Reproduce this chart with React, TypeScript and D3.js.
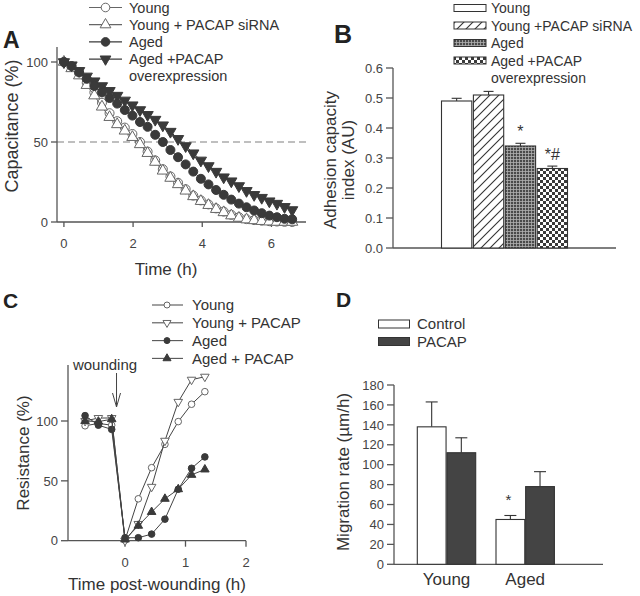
import React from 'react';
import * as d3 from 'd3';

const FONT = '"Liberation Sans", Arial, Helvetica, sans-serif';
const AX = '#555';
const TXT = '#333';
const DARK = '#3a3a3a';
const OPEN = '#666';

// ---------- Panel A data ----------
const timeA = [0, 0.22, 0.44, 0.66, 0.88, 1.1, 1.32, 1.54, 1.76, 1.98, 2.2, 2.42, 2.64, 2.86, 3.08, 3.3, 3.52, 3.74, 3.96, 4.18, 4.4, 4.62, 4.84, 5.06, 5.28, 5.5, 5.72, 5.94, 6.16, 6.38, 6.6];
const youngA = [100, 97, 93, 87, 81, 74.5, 68, 63, 59, 55, 50, 44, 38.5, 33, 28.5, 24.5, 20.5, 16.5, 13.5, 11, 8.5, 6.5, 4.5, 3, 1.8, 1.2, 0.8, 0.5, 0.3, 0.1, 0];
const youngSiRNAA = [100, 96, 91.5, 85.5, 79, 72, 65.5, 61, 57, 53, 48.5, 43, 37.5, 32, 27.5, 23.5, 19.5, 16, 13, 10.5, 8, 6, 4, 2.5, 1.5, 1, 0.5, 0.2, 0, 0, 0];
const agedA = [100, 97.5, 93.5, 89.5, 85, 81, 77.5, 74, 70, 66.5, 62.5, 59.5, 54.5, 50, 45, 40.5, 36, 31.5, 27, 23.5, 20, 17, 14, 11.5, 9.2, 7.2, 5.5, 4, 3, 2, 1.7];
const agedOEA = [100, 98, 94.5, 91, 88, 85, 82, 79, 76, 73, 70, 67, 64, 60.5, 56.5, 52, 47.5, 43, 38.5, 35, 31.5, 28, 25.5, 22.5, 19.5, 17, 15.2, 13, 11.5, 9.5, 7.5];
const xTicksA = [0, 2, 4, 6];
const yTicksA = [0, 50, 100];
const refLineA = 50;

// ---------- Panel B data ----------
const catsB = ['Young', 'Young +PACAP siRNA', 'Aged', 'Aged +PACAP overexpression'];
const valsB = [0.49, 0.51, 0.34, 0.265];
const errsB = [0.009, 0.012, 0.009, 0.008];
const marksB = ['', '', '*', '*#'];
const yTicksB = [0, 0.1, 0.2, 0.3, 0.4, 0.5, 0.6];

// ---------- Panel C data ----------
const timeC = [-0.66, -0.44, -0.22, 0, 0.22, 0.44, 0.66, 0.88, 1.1, 1.32];
const youngC = [96, 98, 96.5, 0.5, 35, 61, 80.5, 99.5, 114, 124.5];
const youngPacapC = [100, 102.5, 102.5, 0, 14, 45, 83.5, 116, 134.5, 137];
const agedC = [104.5, 96.5, 93, 2.5, 2.5, 5.5, 18, 43, 60.5, 70];
const agedPacapC = [100, 99.5, 101.5, 1, 12.5, 24, 35, 43, 55, 59.5];
const xTicksC = [0, 1, 2];
const yTicksC = [0, 50, 100];
const woundTimeC = -0.14;

// ---------- Panel D data ----------
const groupsD = ['Young', 'Aged'];
const seriesD = ['Control', 'PACAP'];
const controlD = [138, 45];
const pacapD = [112, 78];
const controlErrD = [25, 4];
const pacapErrD = [15, 15];
const marksD = [['', ''], ['*', '']];
const yTicksD = [0, 20, 40, 60, 80, 100, 120, 140, 160, 180];

const triPath = (size: number) => d3.symbol().type(d3.symbolTriangle).size(size)() as string;

function Marker({ shape, filled, x, y, r, tri }: any) {
  const fill = filled ? DARK : '#fff';
  const stroke = filled ? DARK : OPEN;
  if (shape === 'circle') return <circle cx={x} cy={y} r={r} fill={fill} stroke={stroke} strokeWidth={1} />;
  const rot = shape === 'down' ? 180 : 0;
  return <path d={triPath(tri)} transform={`translate(${x},${y}) rotate(${rot})`} fill={fill} stroke={stroke} strokeWidth={1} />;
}

function YAxis({ scale, x, ticks, top, fmt, len = 6, fs = 13 }: any) {
  const d = scale.domain();
  return (
    <g>
      <line x1={x} x2={x} y1={scale(d[0])} y2={top} stroke={AX} strokeWidth={1.3} />
      {ticks.map((t: number) => (
        <g key={t}>
          <line x1={x - len} x2={x} y1={scale(t)} y2={scale(t)} stroke={AX} strokeWidth={1.3} />
          <text x={x - len - 3} y={scale(t)} dy="0.36em" textAnchor="end" fontSize={fs} fill="#444">{fmt ? fmt(t) : t}</text>
        </g>
      ))}
    </g>
  );
}

function XAxis({ scale, y, ticks, x0, x1, len = 5, fs = 13, labelY }: any) {
  return (
    <g>
      <line x1={x0} x2={x1} y1={y} y2={y} stroke={AX} strokeWidth={1.3} />
      {ticks.map((t: number) => (
        <g key={t}>
          <line x1={scale(t)} x2={scale(t)} y1={y} y2={y + len} stroke={AX} strokeWidth={1.3} />
          <text x={scale(t)} y={labelY} textAnchor="middle" fontSize={fs} fill="#444">{t}</text>
        </g>
      ))}
    </g>
  );
}

export default function App() {
  // Panel A scales
  const xA = d3.scaleLinear().domain([-0.2, 7.0]).range([57, 306]);
  const yA = d3.scaleLinear().domain([0, 100]).range([222, 62]);
  const seriesA = [
    { name: 'Young', vals: youngA, shape: 'circle', filled: false },
    { name: 'Young + PACAP siRNA', vals: youngSiRNAA, shape: 'up', filled: false },
    { name: 'Aged +PACAP overexpression', vals: agedOEA, shape: 'down', filled: true },
    { name: 'Aged', vals: agedA, shape: 'circle', filled: true },
  ];
  const legendA = [
    { label: ['Young'], shape: 'circle', filled: false },
    { label: ['Young + PACAP siRNA'], shape: 'up', filled: false },
    { label: ['Aged'], shape: 'circle', filled: true },
    { label: ['Aged +PACAP', 'overexpression'], shape: 'down', filled: true },
  ];
  const lineA = (vals: number[]) => d3.line<number>().x((_, i) => xA(timeA[i])).y((v) => yA(v))(vals) as string;

  // Panel B scales
  const xB = d3.scaleBand<string>().domain(catsB).range([441.5, 567.5]).paddingInner(0.05);
  const yB = d3.scaleLinear().domain([0, 0.6]).range([248, 68]);
  const fillsB = ['#fff', 'url(#hatch)', 'url(#grid)', 'url(#checker)'];
  const legendBLabels = [['Young'], ['Young +PACAP siRNA'], ['Aged'], ['Aged +PACAP', 'overexpression']];

  // Panel C scales
  const xC = d3.scaleLinear().domain([0, 2]).range([125, 246]);
  const yC = d3.scaleLinear().domain([0, 100]).range([540.7, 421]);
  const seriesC = [
    { name: 'Young', vals: youngC, shape: 'circle', filled: false },
    { name: 'Young + PACAP', vals: youngPacapC, shape: 'down', filled: false },
    { name: 'Aged', vals: agedC, shape: 'circle', filled: true },
    { name: 'Aged + PACAP', vals: agedPacapC, shape: 'up', filled: true },
  ];
  const lineC = (vals: number[]) => d3.line<number>().x((_, i) => xC(timeC[i])).y((v) => yC(v))(vals) as string;

  // Panel D scales
  const x0D = d3.scaleBand<string>().domain(groupsD).range([417.3, 554.4]).paddingInner(0.258).paddingOuter(0);
  const x1D = d3.scaleBand<string>().domain(seriesD).range([0, x0D.bandwidth()]).paddingInner(0.03);
  const yD = d3.scaleLinear().domain([0, 180]).range([564.3, 385]);
  const valsD = [controlD, pacapD];
  const errsD = [controlErrD, pacapErrD];
  const fillsD = ['#fff', '#444'];

  return (
    <svg width={640} height={596} style={{ position: 'absolute', left: 0, top: 0 }} fontFamily={FONT}>
      <defs>
        <pattern id="hatch" patternUnits="userSpaceOnUse" width={9} height={9}>
          <rect width={9} height={9} fill="#fff" />
          <path d="M-2,11 L11,-2 M-2,2 L2,-2 M7,11 L11,7" stroke="#333" strokeWidth={1.1} />
        </pattern>
        <pattern id="grid" patternUnits="userSpaceOnUse" width={3} height={3}>
          <rect width={3} height={3} fill="#4a4a4a" />
          <rect width={3} height={0.8} fill="#b0b0b0" />
          <rect width={0.8} height={3} fill="#b0b0b0" />
        </pattern>
        <pattern id="checker" patternUnits="userSpaceOnUse" width={6} height={6}>
          <rect width={6} height={6} fill="#fff" />
          <rect width={3} height={3} fill="#3a3a3a" />
          <rect x={3} y={3} width={3} height={3} fill="#3a3a3a" />
        </pattern>
      </defs>
      <rect width={640} height={596} fill="#fff" />

      {/* ================= Panel A ================= */}
      <text x={3} y={48} fontSize={23} fontWeight="bold" fill="#222">A</text>
      <line x1={57} x2={306} y1={yA(refLineA)} y2={yA(refLineA)} stroke="#aaa" strokeWidth={1.3} strokeDasharray="7,4" />
      <YAxis scale={yA} x={57} ticks={yTicksA} top={47} />
      <XAxis scale={xA} y={222} ticks={xTicksA} x0={57} x1={306} labelY={248} />
      <text x={166} y={275} textAnchor="middle" fontSize={17} fill={TXT}>Time (h)</text>
      <text transform="translate(18,126) rotate(-90)" textAnchor="middle" fontSize={18} fill={TXT}>Capacitance (%)</text>
      {seriesA.map((s) => (
        <g key={s.name}>
          <path d={lineA(s.vals)} fill="none" stroke={s.filled ? DARK : OPEN} strokeWidth={1} />
          {s.vals.map((v, i) => (
            <Marker key={i} shape={s.shape} filled={s.filled} x={xA(timeA[i])} y={yA(v)} r={4.5} tri={55} />
          ))}
        </g>
      ))}
      {legendA.map((l, i) => {
        const cy = 7.5 + i * 17.2;
        return (
          <g key={i}>
            <line x1={89} x2={122} y1={cy} y2={cy} stroke={l.filled ? DARK : OPEN} strokeWidth={1.2} />
            <Marker shape={l.shape} filled={l.filled} x={105.5} y={cy} r={4.3} tri={50} />
            {l.label.map((t, j) => (
              <text key={j} x={129} y={cy + j * 16.5} dy="0.36em" fontSize={14.5} fill={TXT}>{t}</text>
            ))}
          </g>
        );
      })}

      {/* ================= Panel B ================= */}
      <text x={334} y={43} fontSize={25} fontWeight="bold" fill="#222">B</text>
      {legendBLabels.map((lab, i) => {
        const cy = 8 + i * 17.5;
        return (
          <g key={i}>
            <rect x={454} y={cy - 3.5} width={32} height={7} fill={fillsB[i]} stroke="#333" strokeWidth={1} />
            {lab.map((t, j) => (
              <text key={j} x={491} y={cy + j * 17} dy="0.36em" fontSize={14} fill={TXT}>{t}</text>
            ))}
          </g>
        );
      })}
      <YAxis scale={yB} x={393} ticks={yTicksB} top={68} fmt={(t: number) => t.toFixed(1)} len={7} />
      <line x1={393} x2={616} y1={248} y2={248} stroke={AX} strokeWidth={1.3} />
      <text transform="translate(336,160) rotate(-90)" textAnchor="middle" fontSize={17} fill={TXT}>Adhesion capacity</text>
      <text transform="translate(354,160) rotate(-90)" textAnchor="middle" fontSize={17} fill={TXT}>index (AU)</text>
      {catsB.map((c, i) => {
        const x = xB(c)!;
        const w = xB.bandwidth();
        const cx = x + w / 2;
        return (
          <g key={c}>
            <line x1={cx} x2={cx} y1={yB(valsB[i])} y2={yB(valsB[i] + errsB[i])} stroke="#333" strokeWidth={1.1} />
            <line x1={cx - 5} x2={cx + 5} y1={yB(valsB[i] + errsB[i])} y2={yB(valsB[i] + errsB[i])} stroke="#333" strokeWidth={1.1} />
            <rect x={x} y={yB(valsB[i])} width={w} height={248 - yB(valsB[i])} fill={fillsB[i]} stroke="#333" strokeWidth={1.1} />
            {marksB[i] && (
              <text x={cx} y={yB(valsB[i] + errsB[i]) - 6} textAnchor="middle" fontSize={16} fill={TXT}>{marksB[i]}</text>
            )}
          </g>
        );
      })}

      {/* ================= Panel C ================= */}
      <text x={3} y={308} fontSize={21} fontWeight="bold" fill="#222">C</text>
      {seriesC.map((s, i) => {
        const cy = 305 + i * 17.8;
        return (
          <g key={s.name}>
            <line x1={152} x2={183} y1={cy} y2={cy} stroke="#555" strokeWidth={1.1} />
            <Marker shape={s.shape} filled={s.filled} x={167} y={cy} r={3} tri={28} />
            <text x={192} y={cy} dy="0.36em" fontSize={15} fill={TXT}>{s.name}</text>
          </g>
        );
      })}
      <YAxis scale={yC} x={68} ticks={yTicksC} top={365} len={7} />
      <XAxis scale={xC} y={540.7} ticks={xTicksC} x0={68} x1={246} labelY={567} len={6} />
      <text x={157} y={590} textAnchor="middle" fontSize={17} fill={TXT}>Time post-wounding (h)</text>
      <text transform="translate(29,453) rotate(-90)" textAnchor="middle" fontSize={17} fill={TXT}>Resistance (%)</text>
      <text x={105} y={370} textAnchor="middle" fontSize={15} fill={TXT}>wounding</text>
      <line x1={xC(woundTimeC)} x2={xC(woundTimeC)} y1={373} y2={407} stroke="#444" strokeWidth={1} />
      <path d={`M${xC(woundTimeC) - 4},393 L${xC(woundTimeC)},407 L${xC(woundTimeC) + 4},393`} fill="none" stroke="#444" strokeWidth={1} />
      {seriesC.map((s) => (
        <g key={s.name}>
          <path d={lineC(s.vals)} fill="none" stroke="#444" strokeWidth={1} />
          {s.vals.map((v, i) => (
            <Marker key={i} shape={s.shape} filled={s.filled} x={xC(timeC[i])} y={yC(v)} r={3.3} tri={32} />
          ))}
        </g>
      ))}

      {/* ================= Panel D ================= */}
      <text x={336} y={307} fontSize={21} fontWeight="bold" fill="#222">D</text>
      {seriesD.map((s, i) => {
        const cy = 324 + i * 17.5;
        return (
          <g key={s}>
            <rect x={378.5} y={cy - 4} width={31} height={8} fill={fillsD[i]} stroke="#333" strokeWidth={1} />
            <text x={417} y={cy} dy="0.36em" fontSize={15} fill={TXT}>{s}</text>
          </g>
        );
      })}
      <YAxis scale={yD} x={394} ticks={yTicksD} top={385} len={7} />
      <line x1={394} x2={603} y1={564.3} y2={564.3} stroke={AX} strokeWidth={1.3} />
      <text transform="translate(349,472) rotate(-90)" textAnchor="middle" fontSize={17} fill={TXT}>Migration rate (µm/h)</text>
      {groupsD.map((g, gi) => (
        <g key={g}>
          {seriesD.map((s, si) => {
            const x = x0D(g)! + x1D(s)!;
            const w = x1D.bandwidth();
            const cx = x + w / 2;
            const v = valsD[si][gi];
            const e = errsD[si][gi];
            return (
              <g key={s}>
                <line x1={cx} x2={cx} y1={yD(v)} y2={yD(v + e)} stroke="#333" strokeWidth={1.1} />
                <line x1={cx - 6} x2={cx + 6} y1={yD(v + e)} y2={yD(v + e)} stroke="#333" strokeWidth={1.1} />
                <rect x={x} y={yD(v)} width={w} height={564.3 - yD(v)} fill={fillsD[si]} stroke="#333" strokeWidth={1.1} />
                {marksD[gi][si] && (
                  <text x={cx - 2} y={505} textAnchor="middle" fontSize={15} fill={TXT}>{marksD[gi][si]}</text>
                )}
              </g>
            );
          })}
          <text x={x0D(g)! + x0D.bandwidth() / 2} y={585} textAnchor="middle" fontSize={17} fill={TXT}>{g}</text>
        </g>
      ))}
    </svg>
  );
}
